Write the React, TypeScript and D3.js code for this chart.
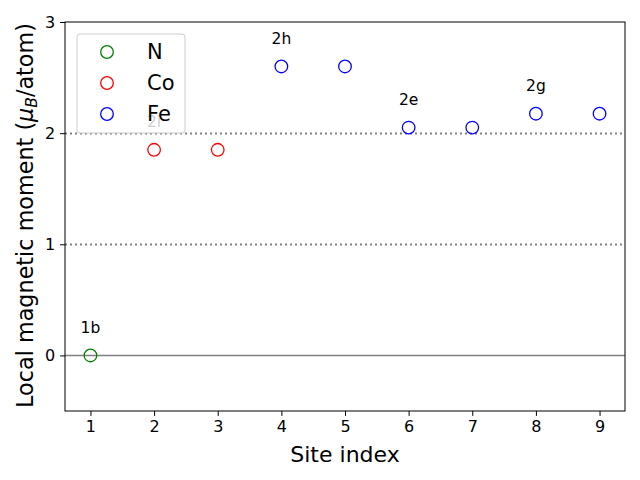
import React, { useEffect, useRef } from 'react';
import * as d3 from 'd3';

const sites = [1, 2, 3, 4, 5, 6, 7, 8, 9];
const elements = ['N', 'Co', 'Co', 'Fe', 'Fe', 'Fe', 'Fe', 'Fe', 'Fe'];
const moments = [0.0, 1.85, 1.85, 2.6, 2.6, 2.05, 2.05, 2.175, 2.175];
const siteLabels = ['1b', '2i', '', '2h', '', '2e', '', '2g', ''];
const legendNames = ['N', 'Co', 'Fe'];
const legendColors = ['green', 'red', 'blue'];
const xTicks = [1, 2, 3, 4, 5, 6, 7, 8, 9];
const yTicks = [0, 1, 2, 3];
const dottedLines = [1, 2];

const App: React.FC = () => {
  const svgRef = useRef<SVGSVGElement>(null);
  const width = 640;
  const height = 480;

  useEffect(() => {
    if (!svgRef.current) return;
    const svg = d3.select(svgRef.current);
    svg.selectAll('*').remove();

    const margin = { top: 22, right: 15, bottom: 69, left: 65 };
    const innerWidth = width - margin.left - margin.right;
    const innerHeight = height - margin.top - margin.bottom;
    const font = 'DejaVu Sans, sans-serif';

    svg.append('rect').attr('width', width).attr('height', height).attr('fill', 'white');

    const g = svg.append('g').attr('transform', `translate(${margin.left},${margin.top})`);

    const x = d3.scaleLinear().domain([0.6, 9.4]).range([0, innerWidth]);
    const y = d3.scaleLinear().domain([-0.5, 3]).range([innerHeight, 0]);
    const color = d3.scaleOrdinal<string, string>().domain(legendNames).range(legendColors);

    // reference lines
    g.append('line')
      .attr('x1', 0).attr('x2', innerWidth)
      .attr('y1', y(0)).attr('y2', y(0))
      .attr('stroke', 'gray').attr('stroke-width', 1.5);

    g.selectAll('.dotted')
      .data(dottedLines)
      .enter()
      .append('line')
      .attr('x1', 0).attr('x2', innerWidth)
      .attr('y1', d => Math.round(y(d)) + 0.5).attr('y2', d => Math.round(y(d)) + 0.5)
      .attr('stroke', 'gray').attr('stroke-width', 1.8)
      .attr('stroke-dasharray', '2,3');

    // site labels
    g.selectAll('.slabel')
      .data(sites.filter((_, i) => siteLabels[i]))
      .enter()
      .append('text')
      .attr('x', d => x(d))
      .attr('y', d => y(moments[d - 1] + 0.25))
      .attr('dy', '0.35em')
      .attr('text-anchor', 'middle')
      .style('font-family', font)
      .style('font-size', '15.5px')
      .text(d => siteLabels[d - 1]);

    // points
    g.selectAll('.pt')
      .data(sites)
      .enter()
      .append('circle')
      .attr('cx', d => x(d))
      .attr('cy', (_, i) => y(moments[i]))
      .attr('r', 6.3)
      .attr('fill', 'none')
      .attr('stroke', (_, i) => color(elements[i]))
      .attr('stroke-width', 1.3);

    // axes
    const xAxis = g.append('g')
      .attr('transform', `translate(0,${innerHeight})`)
      .call(d3.axisBottom(x).tickValues(xTicks).tickSize(4.9).tickPadding(4.9).tickFormat(d3.format('d')));
    const yAxis = g.append('g')
      .call(d3.axisLeft(y).tickValues(yTicks).tickSize(4.9).tickPadding(4.9).tickFormat(d3.format('d')));
    [xAxis, yAxis].forEach(ax => {
      ax.select('.domain').remove();
      ax.selectAll('line').attr('stroke', 'black').attr('stroke-width', 1);
      ax.selectAll('text').style('font-family', font).style('font-size', '16px').attr('fill', 'black');
    });

    // frame
    g.append('rect')
      .attr('width', innerWidth).attr('height', innerHeight)
      .attr('fill', 'none').attr('stroke', 'black').attr('stroke-width', 1);

    // axis labels
    svg.append('text')
      .attr('x', margin.left + innerWidth / 2)
      .attr('y', 462)
      .attr('text-anchor', 'middle')
      .style('font-family', font)
      .style('font-size', '22px')
      .text('Site index');

    const yl = svg.append('text')
      .attr('transform', `translate(33,${margin.top + innerHeight / 2 - 1}) rotate(-90)`)
      .attr('text-anchor', 'middle')
      .style('font-family', font)
      .style('font-size', '22.3px');
    yl.append('tspan').text('Local magnetic moment (');
    yl.append('tspan').style('font-style', 'italic').text('μ');
    yl.append('tspan').style('font-style', 'italic').style('font-size', '15.5px').attr('dy', '4').text('B');
    yl.append('tspan').attr('dy', '-4').text('/atom)');

    // legend
    const lg = svg.append('g').attr('transform', `translate(77,34)`);
    lg.append('rect')
      .attr('width', 108).attr('height', 99)
      .attr('rx', 3)
      .attr('fill', 'white').attr('fill-opacity', 0.8)
      .attr('stroke', '#cccccc').attr('stroke-width', 1);
    const items = lg.selectAll('.item')
      .data(legendNames)
      .enter()
      .append('g')
      .attr('transform', (_, i) => `translate(0,${18 + i * 31})`);
    items.append('circle')
      .attr('cx', 30).attr('cy', 0).attr('r', 6.3)
      .attr('fill', 'none')
      .attr('stroke', d => color(d))
      .attr('stroke-width', 1.3);
    items.append('text')
      .attr('x', 70).attr('y', 0).attr('dy', '0.35em')
      .style('font-family', font)
      .style('font-size', '21px')
      .text(d => d);
  }, []);

  return (
    <svg
      ref={svgRef}
      width={width}
      height={height}
      style={{ position: 'absolute', left: 0, top: 0 }}
    />
  );
};

export default App;
